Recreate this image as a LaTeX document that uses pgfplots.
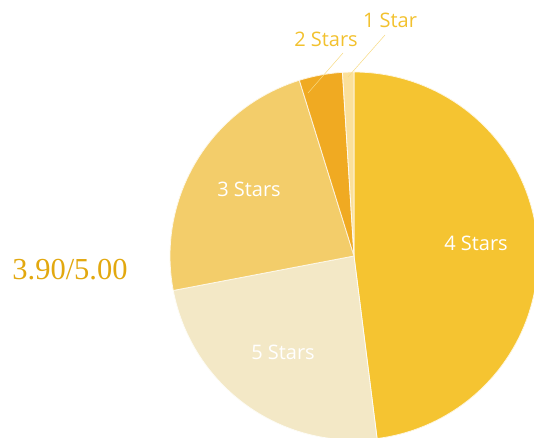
\documentclass[border=0pt]{standalone}
\usepackage{pgfplots}
\pgfplotsset{compat=1.18}
\usepackage{pgfplotstable}
\usepackage{fontspec}
\setmainfont{Open Sans}
\newfontfamily\serifnum{Liberation Serif}
\definecolor{c4}{HTML}{F5C431}
\definecolor{c5}{HTML}{F3E8C6}
\definecolor{c3}{HTML}{F3CD6A}
\definecolor{c2}{HTML}{F0AA22}
\definecolor{c1}{HTML}{FBE09A}
\definecolor{lab}{HTML}{F2C12E}
\definecolor{score}{HTML}{E2A80F}
% share (percent), start angle, end angle (clockwise from top)
\pgfplotstableread{
name  pct   start    end
4     48.0  90.0    -82.8
5     24.0  -82.8   -169.2
3     23.2  -169.2  -252.72
2     3.8   -252.72 -266.4
1     1.0   -266.4  -270.0
}\ratings
\begin{document}
\begin{tikzpicture}
\useasboundingbox (0,0) rectangle (534pt,438pt);
\clip (0,0) rectangle (534pt,438pt);
\begin{axis}[
  x=1pt, y=1pt, xmin=0, xmax=534, ymin=0, ymax=438,
  hide axis, clip=true, anchor=origin, at={(0,0)},
]
\foreach \i/\col in {0/c4,1/c5,2/c3,3/c2,4/c1} {
  \pgfplotstablegetelem{\i}{start}\of\ratings \let\sa\pgfplotsretval
  \pgfplotstablegetelem{\i}{end}\of\ratings \let\ea\pgfplotsretval
  \edef\temp{\noexpand\addplot[fill=\col, draw=white!85!\col, line width=0.8pt, domain=\sa:\ea, samples=80, smooth]
    ({354+184*cos(x)},{182+184*sin(x)}) -- (axis cs:354,182) -- cycle;}
  \temp
}
\node[white, font=\fontsize{20}{20}\selectfont] at (axis cs:476,195) {4 Stars};
\node[white, font=\fontsize{20}{20}\selectfont] at (axis cs:283,86) {5 Stars};
\node[white, font=\fontsize{20}{20}\selectfont] at (axis cs:249,249) {3 Stars};
\node[lab, font=\fontsize{20}{20}\selectfont] at (axis cs:326,399) {2 Stars};
\node[lab, font=\fontsize{20}{20}\selectfont] at (axis cs:390,418) {1 Star};
\draw[lab!60, line width=0.5pt] (axis cs:343,385) -- (axis cs:308,345);
\draw[lab!60, line width=0.5pt] (axis cs:385,403) -- (axis cs:348,361);
\node[score, font=\serifnum\fontsize{30.5}{30.5}\selectfont] at (axis cs:70,168) {3.90/5.00};
\end{axis}
\end{tikzpicture}
\end{document}
